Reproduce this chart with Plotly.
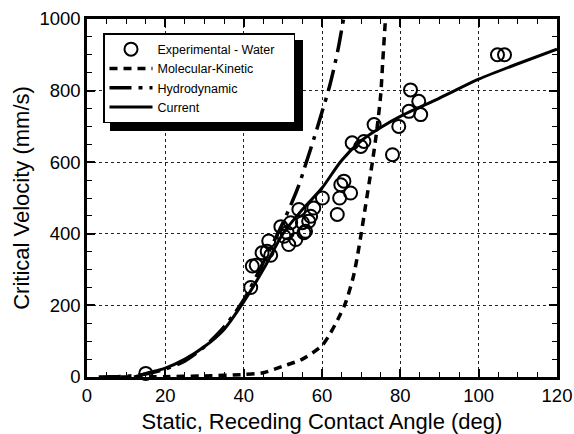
import plotly.graph_objects as go

# Experimental data (contact angle deg, critical velocity mm/s)
exp_angle = [15, 41.8, 42.2, 43.2, 44.7, 46.0, 46.4, 46.9, 49.5, 50.3, 51.1, 51.5, 52.0,
             53.3, 54.1, 55.0, 55.4, 55.8, 56.6, 57.1, 57.9, 60.1, 63.9, 64.5, 64.8,
             65.6, 67.3, 67.7, 69.9, 70.7, 73.3, 78.0, 79.6, 82.2, 82.6, 84.7, 85.2,
             104.8, 106.6]
exp_velocity = [10, 250, 310, 312, 347, 351, 380, 340, 420, 393, 403, 370, 431,
                384, 468, 431, 403, 407, 435, 449, 472, 500, 454, 500, 537,
                547, 514, 654, 644, 658, 705, 621, 700, 742, 802, 770, 733,
                900, 900]

# Molecular-kinetic model curve
mk_angle = [5, 20, 30, 40, 45, 50, 55, 60, 62, 64, 66, 68, 69, 70, 71, 72, 73, 74, 75, 75.5, 76.2, 76.5]
mk_velocity = [0, 1, 3, 7, 12, 30, 50, 88, 120, 160, 207, 280, 335, 400, 470, 540, 610, 690, 790, 880, 1000, 1050]

# Hydrodynamic model curve
hd_angle = [3, 10, 15, 20, 25, 30, 35, 40, 45, 50, 54, 56, 58, 60, 62, 64, 65.5, 66.2]
hd_velocity = [0, 2, 8, 22, 45, 85, 140, 215, 320, 430, 533, 600, 668, 740, 815, 910, 1000, 1040]

# Current model curve
cur_angle = [12, 15, 20, 25, 30, 35, 40, 45, 50, 55, 60, 65, 70, 75, 80, 90, 100, 110, 120]
cur_velocity = [0, 10, 25, 50, 85, 133, 210, 300, 400, 468, 528, 605, 660, 697, 728, 779, 832, 875, 916]

series_names = ["Experimental - Water", "Molecular-Kinetic", "Hydrodynamic", "Current"]

FONT = "Liberation Sans, Arial, Helvetica, sans-serif"
PAD = "\u00a0" * 4  # widen legend box

fig = go.Figure()
fig.add_trace(go.Scatter(
    x=exp_angle, y=exp_velocity, mode="markers", name=series_names[0] + PAD,
    marker=dict(symbol="circle-open", size=13, color="black", line=dict(width=2, color="black")),
    cliponaxis=False,
))
fig.add_trace(go.Scatter(
    x=mk_angle, y=mk_velocity, mode="lines", name=series_names[1],
    line=dict(color="black", width=3.5, dash="8px,6px", shape="spline", smoothing=0.8),
))
fig.add_trace(go.Scatter(
    x=hd_angle, y=hd_velocity, mode="lines", name=series_names[2],
    line=dict(color="black", width=3.5, dash="22px,7px,4px,7px", shape="spline", smoothing=0.8),
))
fig.add_trace(go.Scatter(
    x=cur_angle, y=cur_velocity, mode="lines", name=series_names[3],
    line=dict(color="black", width=3, shape="spline", smoothing=0.8),
))

axis_common = dict(
    showline=True, linecolor="black", linewidth=2.5, mirror="ticks",
    ticks="inside", ticklen=8, tickwidth=1.5, tickcolor="black",
    showgrid=True, gridcolor="#222", gridwidth=1, griddash="dot",
    zeroline=False,
    tickfont=dict(family=FONT, size=18.5, color="black"),
)

fig.update_xaxes(
    range=[0, 120], dtick=20, tick0=0,
    minor=dict(dtick=5, ticks="inside", ticklen=5, tickwidth=1.2, tickcolor="black", showgrid=False),
    title=dict(text="Static, Receding Contact Angle (deg)", font=dict(family=FONT, size=22, color="black"), standoff=12),
    **axis_common,
)
fig.update_yaxes(
    range=[0, 1000], dtick=200, tick0=0,
    minor=dict(dtick=50, ticks="inside", ticklen=5, tickwidth=1.2, tickcolor="black", showgrid=False),
    title=dict(text="Critical Velocity (mm/s)", font=dict(family=FONT, size=22, color="black"), standoff=4),
    **axis_common,
)

# legend drop shadow (offset ~6-7 px right/down of legend box)
W, H, L, T = 470, 358, 87, 19
def px(x): return (x - L) / W
def py(y): return 1 - (y - T) / H
fig.add_shape(type="rect", xref="paper", yref="paper",
              x0=px(110), x1=px(303), y0=py(131), y1=py(40),
              fillcolor="black", line=dict(width=0), layer="above")

fig.update_layout(
    width=574, height=434,
    margin=dict(l=L, r=574 - L - W, t=T, b=434 - T - H, autoexpand=False),
    paper_bgcolor="white", plot_bgcolor="white",
    font=dict(family=FONT, color="black"),
    showlegend=True,
    legend=dict(
        x=px(103), y=py(33), xanchor="left", yanchor="top",
        bgcolor="white", bordercolor="black", borderwidth=1.5,
        font=dict(family=FONT, size=12.5, color="black"),
        itemwidth=43, tracegroupgap=0,
    ),
)

fig.write_html("out.html")
